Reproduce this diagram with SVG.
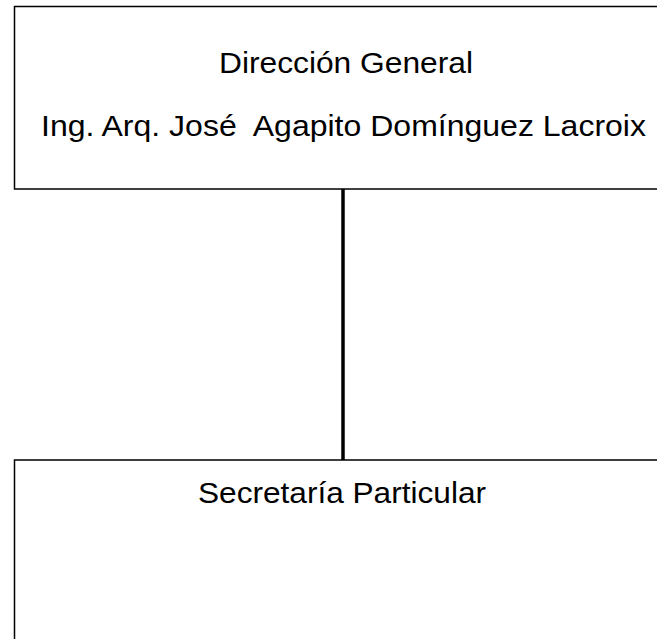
<svg xmlns="http://www.w3.org/2000/svg" width="657" height="639" viewBox="0 0 657 639">
  <style>
    .box { fill: #ffffff; stroke: #000000; stroke-width: 1.5; }
    .lbl { font-family: "Liberation Sans", Arial, sans-serif; font-size: 29px; fill: #000000; text-anchor: middle; }
    .conn { stroke: #000000; stroke-width: 3.5; fill: none; }
  </style>
  <rect width="657" height="639" fill="#ffffff"/>
  <g id="connectors">
    <line class="conn" x1="343" y1="189" x2="343" y2="460"/>
  </g>
  <g id="direccion-general">
    <rect class="box" x="14.5" y="6.5" width="680" height="182.5"/>
    <text class="lbl" x="346" y="73" textLength="254" lengthAdjust="spacingAndGlyphs">Dirección General</text>
    <text class="lbl" x="343.5" y="136" textLength="605" lengthAdjust="spacingAndGlyphs" xml:space="preserve">Ing. Arq. José  Agapito Domínguez Lacroix</text>
  </g>
  <g id="secretaria-particular">
    <rect class="box" x="14.5" y="460" width="680" height="220"/>
    <text class="lbl" x="342" y="503" textLength="288" lengthAdjust="spacingAndGlyphs">Secretaría Particular</text>
  </g>
</svg>
